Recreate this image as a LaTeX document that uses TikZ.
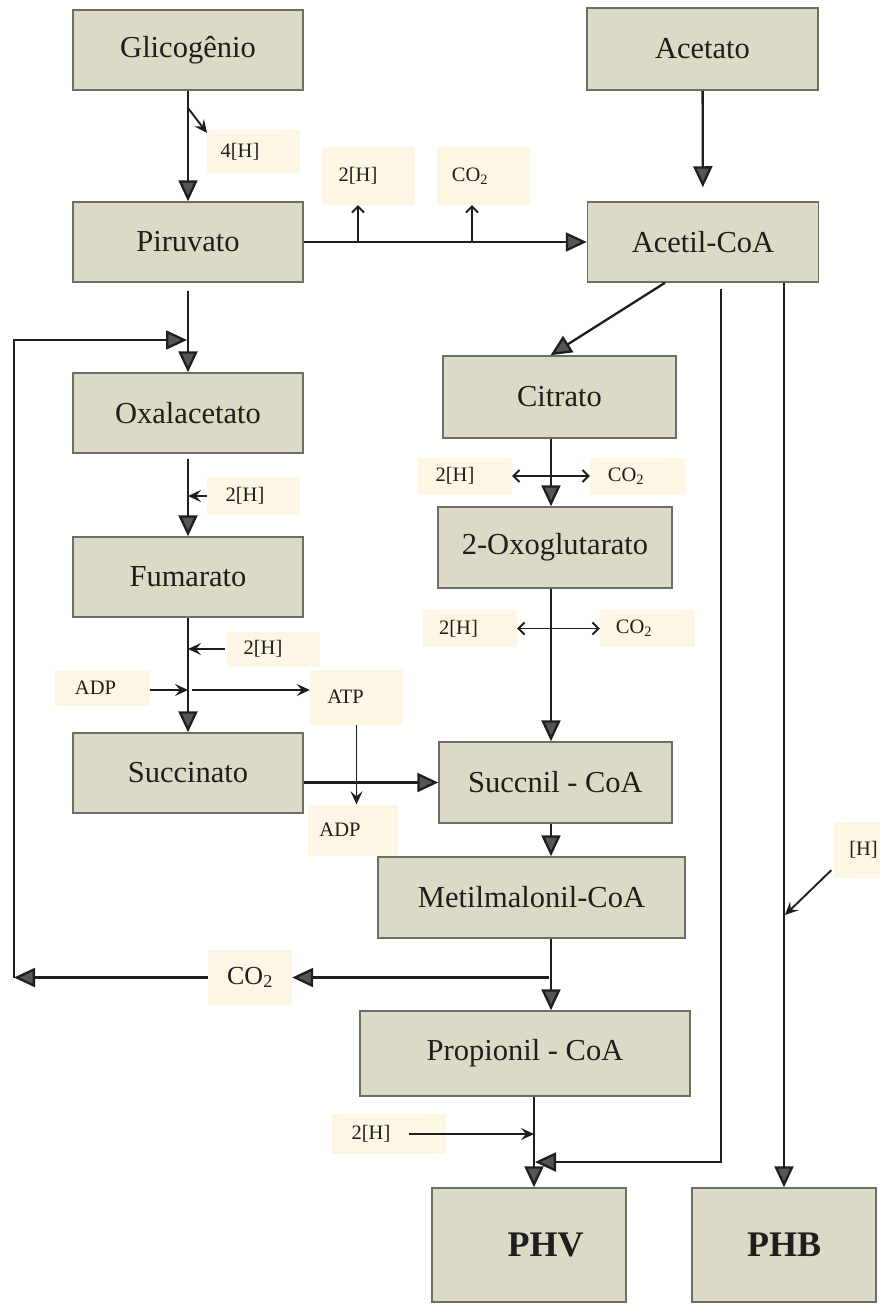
\documentclass[tikz,border=0pt]{standalone}
\usepackage{fontspec}
\setmainfont{Liberation Serif}
\usetikzlibrary{arrows.meta,calc}
\definecolor{boxfill}{RGB}{221,217,199}
\definecolor{boxedge}{RGB}{110,110,105}
\definecolor{tagfill}{RGB}{253,246,228}
\definecolor{tipfill}{RGB}{85,85,85}
\definecolor{ink}{RGB}{30,30,30}
\begin{document}
\begin{tikzpicture}[x=1pt,y=-1pt,
  sz/.style 2 args={minimum width=#1pt, minimum height=#2pt},
  pool/.style={draw=boxedge, line width=1.5pt, fill=boxfill, inner sep=0pt,
    font=\fontsize{30.5}{34}\selectfont, text=ink},
  product/.style={pool, font=\fontsize{36}{40}\selectfont\bfseries},
  tag/.style={fill=tagfill, inner sep=0pt, font=\fontsize{20.5}{24}\selectfont, text=ink},
  flow/.style={draw=ink, line width=2.3pt, -{Triangle[length=21pt,width=19pt,fill=tipfill]}},
  side/.style={draw=ink, line width=1.9pt, -{Stealth[length=13pt,width=12pt,inset=5pt]}},
  barb/.style={draw=ink, line width=1.9pt, -{Straight Barb[length=6pt,width=12pt]}},
  both/.style={draw=ink, line width=1.9pt, {Straight Barb[length=6pt,width=12pt]}-{Straight Barb[length=6pt,width=12pt]}},
]
\useasboundingbox (0,0) rectangle (879,1307);

% metabolite pools
\node[pool,sz={230}{80}] (glic) at (188,50) {Glicogênio};
\node[pool,sz={230}{80}] (piru) at (188,242) {Piruvato};
\node[pool,sz={230}{80}] (oxal) at (188,413) {Oxalacetato};
\node[pool,sz={230}{80}] (fuma) at (188,577) {Fumarato};
\node[pool,sz={230}{80}] (succ) at (188,773) {Succinato};
\node[pool,sz={231}{82}] (acto) at (702.5,49) {Acetato};
\node[pool,sz={231}{80}] (acoa) at (703,242) {Acetil-CoA};
\node[pool,sz={233}{82}] (citr) at (559.5,397) {Citrato};
\node[pool,sz={234}{81}] (oxog) at (555,547.5) {2-Oxoglutarato};
\node[pool,sz={233}{81}] (scoa) at (555.5,782.5) {Succnil - CoA};
\node[pool,sz={307}{81}] (mcoa) at (531.5,897.5) {Metilmalonil-CoA};
\node[pool,sz={330}{85}] (pcoa) at (525,1053.5) {Propionil - CoA};
\node[product,sz={194}{114}] (phv) at (529,1245) {\hspace*{33pt}PHV};
\node[product,sz={184}{114}] (phb) at (784,1245) {PHB};

% cofactor tags
\node[tag,sz={93}{43}] (h4) at (253.5,151.5) {\hspace*{-27pt}4[H]};
\node[tag,sz={93}{58}] (h2a) at (368.5,176) {\hspace*{-21pt}2[H]};
\node[tag,sz={93}{58}] (co2a) at (483.5,176) {\hspace*{-27pt}CO\textsubscript{2}};
\node[tag,sz={93}{38}] (h2o) at (253.5,496) {\hspace*{-17pt}2[H]};
\node[tag,sz={93}{35}] (h2f) at (273.5,649) {\hspace*{-21pt}2[H]};
\node[tag,sz={95}{35}] (adp1) at (102.5,688) {\hspace*{-14pt}ADP};
\node[tag,sz={93}{55}] (atp) at (356.5,697) {\hspace*{-22pt}ATP};
\node[tag,sz={90}{51}] (adp2) at (353,830) {\hspace*{-26pt}ADP};
\node[tag,sz={94}{37}] (h2c) at (465,476) {\hspace*{-20pt}2[H]};
\node[tag,sz={95}{37}] (co2c) at (637.5,476) {\hspace*{-23pt}CO\textsubscript{2}};
\node[tag,sz={94}{37}] (h2x) at (470,628.5) {\hspace*{-23pt}2[H]};
\node[tag,sz={95}{37}] (co2x) at (647.5,628.5) {\hspace*{-27pt}CO\textsubscript{2}};
\node[tag,sz={84}{55},font=\fontsize{26}{30}\selectfont] (co2b) at (250,977.5) {CO\textsubscript{2}};
\node[tag,sz={114}{40}] (h2p) at (389,1134) {\hspace*{-36pt}2[H]};
\node[tag,sz={47}{56}] (hr) at (857,850) {\hspace*{13pt}[H]};

% junction points on the pathways
\coordinate (colR) at (551,0);
\coordinate (colP) at (534,0);
\coordinate (g4) at (188,108);
\coordinate (g4e) at (207,133);
\coordinate (up1) at (358,242);
\coordinate (up2) at (472,242);
\coordinate (jox) at (187,340);
\coordinate (cl) at (14,977.5);
\coordinate (jm) at (549,977.5);
\coordinate (jadp) at (188,690);
\coordinate (jphv) at (535,1162);
\coordinate (bh) at (785,915);

% glycogen branch
\draw[flow] (glic) -- (piru);
\draw[side] (g4) -- (g4e);
\draw[flow] (piru) -- (acoa);
\draw[barb] (up1) -- (up1 |- h2a.south);
\draw[barb] (up2) -- (up2 |- co2a.south);
\draw[flow,shorten >=14pt] (acto) -- (acoa);

% acetyl-CoA outlets
\draw[flow] ([xshift=-38pt]acoa.south) -- ([xshift=-9pt]citr.north);
\draw[flow] ([xshift=18pt,yshift=-6pt]acoa.south) |- (jphv);
\draw[flow] (acoa.south -| phb.north) -- (phb.north);
\draw[side] ([xshift=-2pt,yshift=8pt]hr.south west) -- (bh);

% reductive branch
\draw[flow] ([yshift=-8pt]piru.south) -- (oxal.north);
\draw[flow] (co2b.west) -- (cl);
\draw[flow] (cl) |- (jox);
\draw[flow] (jm) -- (co2b.east);
\draw[flow] ([yshift=-5pt]oxal.south) -- (fuma.north);
\draw[side] (h2o.west) -- (h2o.west -| oxal.south);
\draw[flow] (fuma) -- (succ);
\draw[side] ([xshift=-2pt]h2f.west) -- (h2f.west -| fuma.south);
\draw[side] (adp1.east |- jadp) -- (jadp);
\draw[side] ([xshift=4pt]jadp) -- (atp.west |- jadp);
\draw[side] (atp.south) -- (adp2.north -| atp.south);
\draw[flow] (succ.east |- scoa.west) -- (scoa.west);

% oxidative branch
\draw[flow] (citr.south -| colR) -- (oxog.north -| colR);
\draw[both] (h2c.east) -- (co2c.west);
\draw[flow] (oxog.south -| colR) -- (scoa.north -| colR);
\draw[both] (h2x.east) -- (co2x.west);
\draw[flow] (scoa.south -| colR) -- (mcoa.north -| colR);
\draw[flow] (mcoa.south -| colR) -- (pcoa.north -| colR);
\draw[flow] (pcoa.south -| colP) -- (phv.north -| colP);
\draw[side] ([xshift=20pt]h2p.center) -- (h2p.center -| colP);
\end{tikzpicture}
\end{document}
